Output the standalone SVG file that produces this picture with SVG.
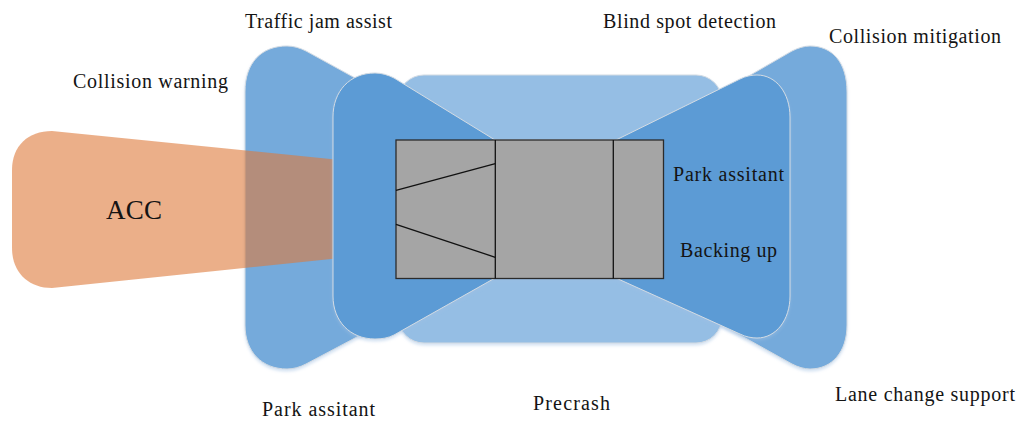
<svg xmlns="http://www.w3.org/2000/svg" width="1023" height="421" viewBox="0 0 1023 421">
<defs>
<style>
.lbl{font-family:"Liberation Serif","Times New Roman",serif;font-size:20px;fill:#141414}
.shape{stroke:#d3dbe3;stroke-width:1}
.car{fill:#a5a5a5;stroke:#2b2b2b;stroke-width:1.3}
.carline{stroke:#111;stroke-width:1.3;fill:none}
</style>
<filter id="sh" x="-10%" y="-10%" width="120%" height="125%">
<feDropShadow dx="0" dy="2" stdDeviation="1.5" flood-color="#9fbfe3" flood-opacity="0.45"/>
</filter>
</defs>
<rect width="1023" height="421" fill="#ffffff"/>
<g id="outer-bowtie">
<path class="shape" filter="url(#sh)" fill="#75aadb" d="M245,92 C245,62 262,46 287,46 C294,46 300,48 306,51 L555,188 L792,51 C798,48 804,46 810,46 C832,46 847,62 847,92 L847,325 C847,352 832,369 810,369 C804,369 798,367 792,364 L555,232 L306,364 C300,367 294,369 287,369 C262,369 245,352 245,325 Z"/>
</g>
<g id="acc">
<path fill="#de7a3a" fill-opacity="0.6" d="M52,131 L360,162 L360,256 L52,288 C28,288 12,272 12,248 L12,170 C12,146 28,131 52,131 Z"/>
</g>
<g id="precrash-zone">
<rect class="shape" filter="url(#sh)" x="398" y="75" width="324" height="268" rx="26" fill="#95bee4"/>
</g>
<g id="inner-bowtie">
<path class="shape" filter="url(#sh)" fill="#5b9bd5" d="M333,117 C333,91 350,73 375,73 C382,73 388,75 394,78 L495,140 L616,140 L740,79 C746,76 752,75 757,75 C776,75 790,93 790,117 L790,296 C790,320 776,338 757,338 C752,338 746,337 740,334 L616,278 L495,278 L394,335 C388,338 382,339 375,339 C350,339 333,321 333,296 Z"/>
</g>
<g id="car">
<rect class="car" x="396" y="140" width="267.5" height="138.5"/>
<line class="carline" x1="495.3" y1="140" x2="495.3" y2="278.5"/>
<line class="carline" x1="613.3" y1="140" x2="613.3" y2="278.5"/>
<line class="carline" x1="396" y1="190.3" x2="495.3" y2="163.7"/>
<line class="carline" x1="396" y1="224.3" x2="495.3" y2="257.3"/>
</g>
<g id="connectors"></g>
<g id="labels">
<text class="lbl" x="245" y="28" textLength="147" lengthAdjust="spacing">Traffic jam assist</text>
<text class="lbl" x="603" y="28" textLength="173" lengthAdjust="spacing">Blind spot detection</text>
<text class="lbl" x="829" y="43" textLength="172" lengthAdjust="spacing">Collision mitigation</text>
<text class="lbl" x="73" y="88" textLength="155" lengthAdjust="spacing">Collision warning</text>
<text class="lbl" x="106" y="219" style="font-size:27px" textLength="56" lengthAdjust="spacing">ACC</text>
<text class="lbl" x="673" y="181" textLength="111" lengthAdjust="spacing">Park assitant</text>
<text class="lbl" x="680" y="257" textLength="97" lengthAdjust="spacing">Backing up</text>
<text class="lbl" x="262" y="416" textLength="113" lengthAdjust="spacing">Park assitant</text>
<text class="lbl" x="533" y="410" textLength="77" lengthAdjust="spacing">Precrash</text>
<text class="lbl" x="835" y="401" textLength="180" lengthAdjust="spacing">Lane change support</text>
</g>
</svg>
